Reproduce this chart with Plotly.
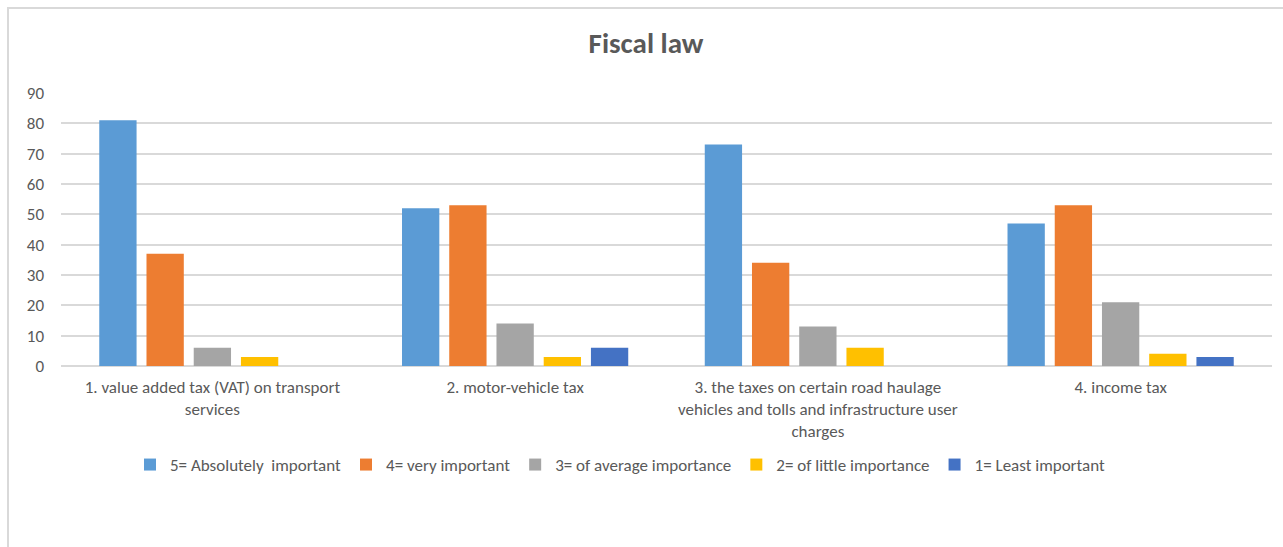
import plotly.graph_objects as go

# Survey results: importance ratings of fiscal-law factors
categories = [
    "1. value added tax (VAT) on transport<br>services",
    "2. motor-vehicle tax",
    "3. the taxes on certain road haulage<br>vehicles and tolls and infrastructure user<br>charges",
    "4. income tax",
]
series_names = [
    "5= Absolutely  important",
    "4= very important",
    "3= of average importance",
    "2= of little importance",
    "1= Least important",
]
absolutely_important = [81, 52, 73, 47]
very_important = [37, 53, 34, 53]
average_importance = [6, 14, 13, 21]
little_importance = [3, 3, 6, 4]
least_important = [0, 6, 0, 3]
y_ticks = [0, 10, 20, 30, 40, 50, 60, 70, 80, 90]

series_values = [absolutely_important, very_important, average_importance,
                 little_importance, least_important]
colors = ["#5B9BD5", "#ED7D31", "#A5A5A5", "#FFC000", "#4472C4"]

FONT = "Carlito, Lato, sans-serif"
TEXT = "#595959"

W, H = 1283, 547
ML, MR, MT, MB = 61, 11, 93, 181
PW, PH = W - ML - MR, H - MT - MB


def px_to_paper_x(px):
    return (px - ML) / PW


def px_to_paper_y(py):
    return (H - MB - py) / PH


fig = go.Figure()
for name, vals, col in zip(series_names, series_values, colors):
    fig.add_trace(go.Bar(
        x=categories, y=vals, name=name,
        marker=dict(color=col, line=dict(width=0)),
    ))

# outer chart frame (left and top edges)
fig.add_shape(
    type="path",
    path=(f"M {px_to_paper_x(8)} {px_to_paper_y(H + 5)} "
          f"L {px_to_paper_x(8)} {px_to_paper_y(8)} "
          f"L {px_to_paper_x(W + 5)} {px_to_paper_y(8)}"),
    xref="paper", yref="paper",
    line=dict(color="#D9D9D9", width=2),
    layer="below",
)

fig.update_layout(
    width=W, height=H,
    margin=dict(l=ML, r=MR, t=MT, b=MB, autoexpand=False),
    paper_bgcolor="white", plot_bgcolor="white",
    barmode="group", bargap=0.22, bargroupgap=0.21,
    title=dict(
        text="<b>Fiscal law</b>",
        x=646 / W, xref="container", xanchor="center",
        y=1 - 43 / H, yanchor="middle",
        font=dict(family=FONT, size=29, color=TEXT),
    ),
    font=dict(family=FONT, size=17, color=TEXT),
    showlegend=True,
    legend=dict(
        orientation="h",
        x=px_to_paper_x(620), xanchor="center", xref="paper",
        y=px_to_paper_y(465), yanchor="middle",
        font=dict(family=FONT, size=17, color=TEXT),
        itemwidth=30,
        traceorder="normal",
    ),
    xaxis=dict(
        showgrid=False, showline=False, zeroline=False,
        tickfont=dict(family=FONT, size=17, color=TEXT),
        ticks="", ticklabelstandoff=9,
    ),
    yaxis=dict(
        range=[0, 90], tickvals=y_ticks,
        showgrid=True, gridcolor="#D9D9D9", gridwidth=1.5,
        zeroline=True, zerolinecolor="#D9D9D9", zerolinewidth=1.5,
        showline=False, ticks="",
        tickfont=dict(family=FONT, size=17, color=TEXT),
        ticklabelstandoff=16,
    ),
)

fig.write_html("out.html")
